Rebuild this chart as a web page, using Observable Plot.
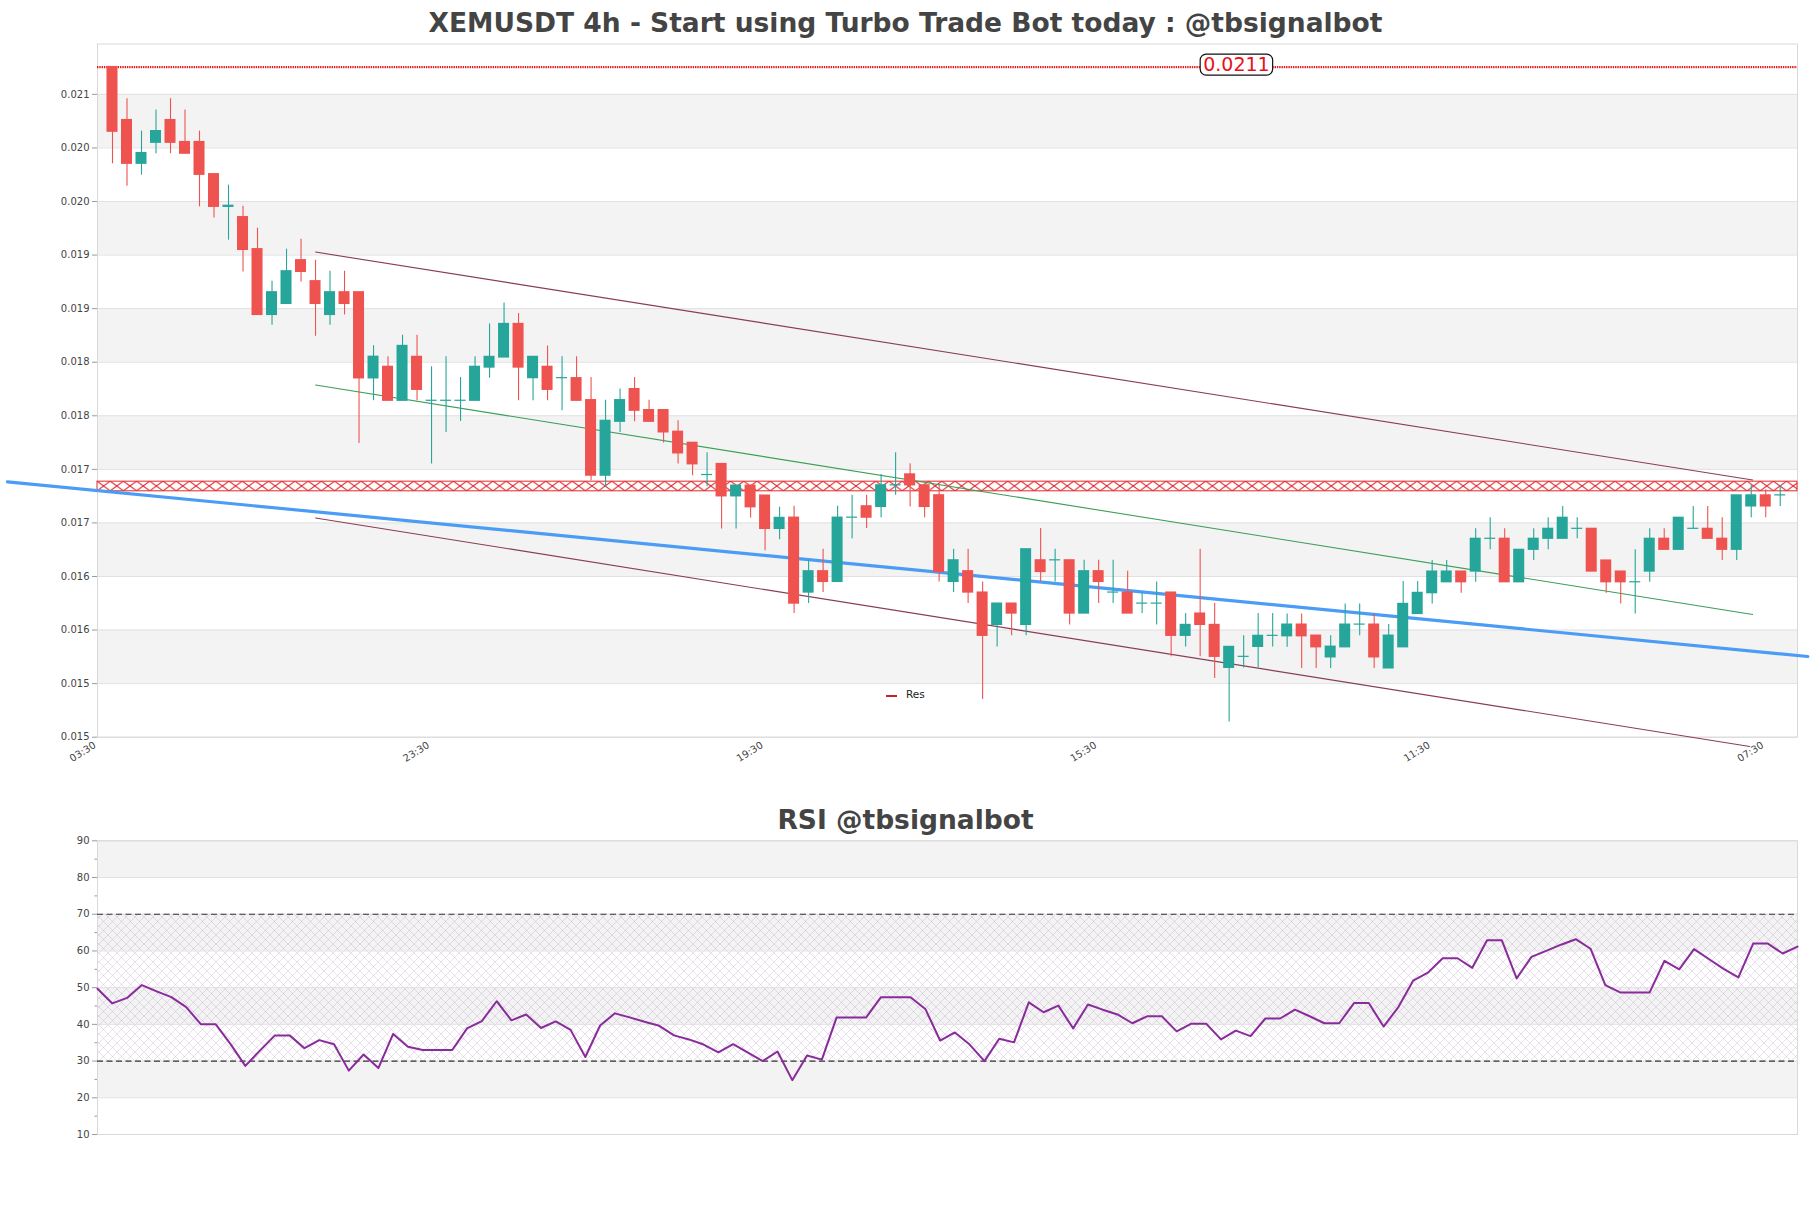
<!DOCTYPE html>
<html>
<head>
<meta charset="utf-8">
<script src="https://cdn.jsdelivr.net/npm/d3@7"></script>
<script src="https://cdn.jsdelivr.net/npm/@observablehq/plot@0.6"></script>
<style>
  body { margin: 0; background: #fff; font-family: "DejaVu Sans", sans-serif; }
  #wrap { position: relative; width: 1811px; height: 1208px; overflow: hidden; background: #fff; }
  .title { position: absolute; left: 0; width: 1811px; text-align: center; font-weight: bold;
           font-size: 26.5px; line-height: 1; color: #444; z-index: 5; }
  .chart { position: absolute; left: 0; }
  .chart svg { overflow: visible; }
  #legend { position: absolute; left: 886px; top: 688px; z-index: 5; font-size: 10.5px; color: #222; }
  #legend .sw { position: absolute; left: 0; top: 6.5px; width: 10.5px; height: 2.6px; background: #c8202a; }
  #legend .lb { position: absolute; left: 20px; top: 0; white-space: nowrap; }
  g[aria-label="y-axis tick"] path { stroke: #9a9a9a; }
</style>
</head>
<body>
<div id="wrap">
  <div class="title" style="top:10px">XEMUSDT 4h - Start using Turbo Trade Bot today : @tbsignalbot</div>
  <div class="title" style="top:807px">RSI @tbsignalbot</div>
  <div id="main" class="chart" style="top:0px"></div>
  <div id="rsi" class="chart" style="top:800px"></div>
  <div id="legend"><div class="sw"></div><div class="lb">Res</div></div>
</div>
<script>
// ---------------- data ----------------
const candleOpen = [
  0.021255, 0.02076, 0.020352, 0.020548, 0.02076, 0.020555, 0.020555, 0.020255, 0.01995, 0.019854,
  0.019555, 0.018941, 0.019044, 0.019452, 0.019256, 0.018941, 0.019153, 0.019153, 0.018349, 0.018457,
  0.01814, 0.01855, 0.01814, 0.01814, 0.01814, 0.01814, 0.01845, 0.018544, 0.018857, 0.018351,
  0.018457, 0.018351, 0.018351, 0.018146, 0.017441, 0.017944, 0.018249, 0.018053, 0.018053, 0.017851,
  0.017748, 0.017447, 0.01755, 0.017248, 0.017348, 0.017255, 0.016944, 0.017049, 0.01635, 0.016549,
  0.016449, 0.017049, 0.017155, 0.017149, 0.017351, 0.017453, 0.017351, 0.017258, 0.016449, 0.016549,
  0.01635, 0.016048, 0.016247, 0.016048, 0.016651, 0.016651, 0.016651, 0.016154, 0.016549, 0.01635,
  0.01635, 0.016247, 0.016247, 0.01635, 0.015946, 0.016154, 0.016048, 0.015647, 0.01575, 0.015843,
  0.015946, 0.015942, 0.016051, 0.015948, 0.015745, 0.015839, 0.016051, 0.016051, 0.015642, 0.015839,
  0.01615, 0.016344, 0.016446, 0.016546, 0.016546, 0.016852, 0.016852, 0.016446, 0.016749, 0.016852,
  0.016852, 0.016945, 0.016945, 0.016649, 0.016546, 0.016446, 0.016546, 0.016852, 0.016749, 0.016945,
  0.016945, 0.016852, 0.016749, 0.017154, 0.017257, 0.017257
];
const candleHigh = [
  0.021255, 0.02096, 0.020657, 0.020854, 0.02096, 0.020854, 0.020657, 0.020255, 0.020153, 0.019956,
  0.019751, 0.019256, 0.019555, 0.019648, 0.019452, 0.019349, 0.019349, 0.019153, 0.018654, 0.01855,
  0.018752, 0.018752, 0.018457, 0.01855, 0.018357, 0.01855, 0.018857, 0.019053, 0.018954, 0.01855,
  0.018652, 0.01855, 0.01855, 0.018357, 0.018146, 0.018249, 0.018357, 0.018146, 0.018053, 0.017953,
  0.017748, 0.017655, 0.01755, 0.017348, 0.017348, 0.017255, 0.017146, 0.017155, 0.016651, 0.016754,
  0.017155, 0.017258, 0.017258, 0.017453, 0.017655, 0.017553, 0.017351, 0.017351, 0.016754, 0.016754,
  0.016449, 0.016247, 0.016247, 0.016754, 0.016947, 0.016754, 0.016651, 0.016651, 0.016651, 0.016651,
  0.016549, 0.01635, 0.016449, 0.01635, 0.016154, 0.016754, 0.016247, 0.015843, 0.015946, 0.016154,
  0.016154, 0.01615, 0.01615, 0.015948, 0.015948, 0.016244, 0.016244, 0.01615, 0.016051, 0.016453,
  0.016453, 0.016649, 0.016649, 0.016546, 0.016945, 0.017048, 0.016945, 0.016749, 0.016945, 0.017048,
  0.017154, 0.017048, 0.016945, 0.016649, 0.016546, 0.016749, 0.016945, 0.016945, 0.017048, 0.017154,
  0.017154, 0.017048, 0.017257, 0.01735, 0.01731, 0.01735
];
const candleLow = [
  0.020352, 0.020143, 0.020246, 0.020446, 0.020446, 0.020446, 0.01995, 0.019847, 0.019639, 0.019343,
  0.018941, 0.018844, 0.019044, 0.019249, 0.018742, 0.018844, 0.018941, 0.017742, 0.018141, 0.01814,
  0.01814, 0.01814, 0.01755, 0.017845, 0.017947, 0.01814, 0.018351, 0.018544, 0.01814, 0.01814,
  0.01814, 0.018047, 0.01814, 0.017394, 0.017332, 0.017845, 0.017944, 0.017944, 0.017745, 0.01755,
  0.017441, 0.017338, 0.016944, 0.016944, 0.017047, 0.01674, 0.016843, 0.016154, 0.016247, 0.01635,
  0.016449, 0.016853, 0.016947, 0.017049, 0.017258, 0.017149, 0.017049, 0.016449, 0.01635, 0.016247,
  0.015352, 0.015843, 0.015946, 0.015946, 0.016449, 0.016449, 0.016048, 0.016154, 0.016247, 0.016247,
  0.016154, 0.016154, 0.016048, 0.01575, 0.015843, 0.01575, 0.015548, 0.015143, 0.015647, 0.015647,
  0.015843, 0.015839, 0.015642, 0.015642, 0.015642, 0.015839, 0.015948, 0.015642, 0.015642, 0.015839,
  0.01615, 0.016244, 0.016446, 0.016344, 0.016446, 0.016749, 0.016446, 0.016446, 0.016649, 0.016749,
  0.016852, 0.016852, 0.016546, 0.016344, 0.016244, 0.01615, 0.016446, 0.016749, 0.016749, 0.016945,
  0.016852, 0.016649, 0.016649, 0.017048, 0.017048, 0.017154
];
const candleClose = [
  0.020651, 0.020352, 0.020452, 0.020657, 0.020548, 0.020446, 0.020249, 0.01995, 0.01996, 0.019548,
  0.018941, 0.019153, 0.019349, 0.019343, 0.019044, 0.019153, 0.019044, 0.018349, 0.018551, 0.01814,
  0.018652, 0.018242, 0.01814, 0.01814, 0.01814, 0.018457, 0.01855, 0.018857, 0.01845, 0.01855,
  0.018242, 0.018351, 0.01814, 0.017441, 0.017953, 0.018146, 0.018047, 0.017944, 0.017845, 0.017649,
  0.017547, 0.017447, 0.017248, 0.017348, 0.017146, 0.016944, 0.017047, 0.016247, 0.016549, 0.016449,
  0.017049, 0.017049, 0.017049, 0.017351, 0.017351, 0.017351, 0.017149, 0.016542, 0.016651, 0.01635,
  0.015946, 0.016247, 0.016154, 0.016754, 0.016542, 0.016651, 0.016154, 0.016549, 0.016449, 0.01635,
  0.016154, 0.016247, 0.016247, 0.015946, 0.016048, 0.016048, 0.01575, 0.015843, 0.01575, 0.015946,
  0.015946, 0.016051, 0.015942, 0.015839, 0.015845, 0.016051, 0.016051, 0.015745, 0.015948, 0.016244,
  0.016347, 0.016546, 0.016546, 0.016446, 0.016852, 0.016852, 0.016446, 0.016749, 0.016852, 0.016945,
  0.017048, 0.016945, 0.016546, 0.016446, 0.016446, 0.016446, 0.016852, 0.016749, 0.017048, 0.016945,
  0.016852, 0.016749, 0.017257, 0.017257, 0.017154, 0.017257
];
const rsiValues = [
  49.7, 45.7, 47.2, 50.7, 49.0, 47.4, 44.7, 40.0, 40.0, 34.6,
  28.7, 32.9, 37.0, 37.0, 33.5, 35.7, 34.6, 27.4, 31.8, 28.1,
  37.4, 33.9, 33.0, 33.0, 33.0, 38.9, 40.9, 46.3, 41.1, 42.7,
  39.0, 40.8, 38.5, 31.1, 39.7, 43.0, 41.9, 40.7, 39.6, 37.0,
  35.9, 34.5, 32.4, 34.6, 32.3, 30.0, 32.6, 24.8, 31.5, 30.4,
  41.9, 41.9, 41.9, 47.4, 47.4, 47.4, 44.2, 35.6, 37.8, 34.5,
  30.0, 36.1, 35.1, 46.0, 43.3, 45.1, 38.9, 45.4, 44.0, 42.7,
  40.3, 42.2, 42.2, 38.1, 40.2, 40.2, 35.9, 38.3, 36.8, 41.6,
  41.6, 44.0, 42.2, 40.3, 40.3, 45.8, 45.8, 39.4, 44.7, 51.9,
  54.1, 58.0, 58.0, 55.4, 62.9, 62.9, 52.5, 58.4, 60.0, 61.7,
  63.2, 60.6, 50.7, 48.7, 48.7, 48.7, 57.3, 55.0, 60.5, 57.8,
  55.1, 52.8, 62.0, 62.0, 59.3, 61.2
];
const xTickIndex = [-1, 22, 45, 68, 91, 114];
const xTickLabels = ["03:30", "23:30", "19:30", "15:30", "11:30", "07:30"];
const yTickValues = [0.015, 0.0155, 0.016, 0.0165, 0.017, 0.0175, 0.018, 0.0185, 0.019, 0.0195, 0.020, 0.0205, 0.021];
const yTickLabels = ["0.015", "0.015", "0.016", "0.016", "0.017", "0.017", "0.018", "0.018", "0.019", "0.019", "0.020", "0.020", "0.021"];
const priceBands = [[0.0155, 0.016], [0.0165, 0.017], [0.0175, 0.018], [0.0185, 0.019], [0.0195, 0.020], [0.0205, 0.021]];
const rsiTickValues = [10, 20, 30, 40, 50, 60, 70, 80, 90];
const rsiTickLabels = ["10", "20", "30", "40", "50", "60", "70", "80", "90"];
const rsiMinorTicks = [15, 25, 35, 45, 55, 65, 75, 85];
const rsiBands = [[20, 30], [40, 50], [60, 70], [80, 90]];
const rsiZone = [30, 70];
const rsiLevels = [30, 70];
const resLevel = 0.021255;
const resLabel = "0.0211";
const resLabelIndex = 77.5;
const resZone = [0.017295, 0.017385];
const trendBlue = [[-7.24, 0.017383], [116.9, 0.015753]];
const channelUpper = [[14, 0.019528], [113.1, 0.017401]];
const channelMid = [[14, 0.018287], [113.1, 0.016145]];
const channelLower = [[14, 0.017046], [112.9, 0.014913]];
const legendLabel = "Res";

// ---------------- build ----------------
const GREEN = "#26a69a", RED = "#ef5350";
const candles = candleOpen.map((o, i) => ({i, o, h: candleHigh[i], l: candleLow[i], c: candleClose[i]}));
const xTicks = xTickIndex.map((i, k) => ({i, label: xTickLabels[k]}));
const yLab = new Map(yTickValues.map((v, k) => [v, yTickLabels[k]]));
const rLab = new Map(rsiTickValues.map((v, k) => [v, rsiTickLabels[k]]));
const W = 1811;
const xDom = [-1.034, 116.19];

const main = Plot.plot({
  width: W, height: 780,
  marginLeft: 97, marginRight: 14, marginTop: 43.5, marginBottom: 43.3,
  x: {domain: xDom, axis: null},
  y: {domain: [0.015, 0.02147], axis: null},
  color: {type: "identity"},
  style: {fontFamily: "DejaVu Sans", fontSize: "10px", color: "#444", background: "transparent"},
  marks: [
    Plot.rect(priceBands, {x1: () => xDom[0], x2: () => xDom[1], y1: d => d[0], y2: d => d[1], fill: "#f3f3f3"}),
    Plot.ruleY(yTickValues, {stroke: "#e1e1e1", strokeWidth: 1}),
    Plot.frame({stroke: "#d9d9d9"}),
    Plot.axisY({ticks: yTickValues, tickFormat: d => yLab.get(d), tickSize: 5, tickPadding: 3, fill: "#444"}),
    Plot.text(xTicks, {x: "i", text: "label", frameAnchor: "bottom", rotate: -32, textAnchor: "end",
      lineAnchor: "middle", dx: -3, dy: 7, fill: "#444", fontSize: 10}),
    Plot.rect([resZone], {x1: () => xDom[0], x2: () => xDom[1], y1: d => d[0], y2: d => d[1],
      fill: "url(#resHatch)", stroke: "#e3262b", strokeWidth: 1}),
    Plot.ruleY([resLevel], {stroke: "#dc1f1f", strokeWidth: 2.2, strokeDasharray: "1.4,0.9"}),
    Plot.line(trendBlue, {x: d => d[0], y: d => d[1], stroke: "#4a9cf4", strokeWidth: 3.2}),
    Plot.line(channelUpper, {x: d => d[0], y: d => d[1], stroke: "#8a3d52", strokeWidth: 1.1}),
    Plot.line(channelLower, {x: d => d[0], y: d => d[1], stroke: "#8a3d52", strokeWidth: 1.1}),
    Plot.line(channelMid, {x: d => d[0], y: d => d[1], stroke: "#3b9e57", strokeWidth: 1.1}),
    Plot.ruleX(candles, {x: "i", y1: "l", y2: "h", stroke: d => d.c >= d.o ? GREEN : RED, strokeWidth: 1.1}),
    Plot.rect(candles, {x1: d => d.i - 0.38, x2: d => d.i + 0.38,
      y1: d => Math.min(d.o, d.c), y2: d => Math.max(d.o, d.c),
      fill: d => d.c >= d.o ? GREEN : RED, insetTop: -0.6, insetBottom: -0.6}),
    Plot.text([resLabel], {x: () => resLabelIndex, y: () => resLevel, text: d => d, fill: "#e8101a",
      fontSize: 19, lineAnchor: "middle", dy: -2, className: "reslabel"})
  ]
});

const rsi = Plot.plot({
  width: W, height: 360,
  marginLeft: 97, marginRight: 14, marginTop: 40.3, marginBottom: 26,
  x: {domain: [0, rsiValues.length - 1], axis: null},
  y: {domain: [10, 90], axis: null},
  style: {fontFamily: "DejaVu Sans", fontSize: "10px", color: "#444", background: "transparent"},
  marks: [
    Plot.rect(rsiBands, {x1: () => 0, x2: () => rsiValues.length - 1, y1: d => d[0], y2: d => d[1], fill: "#f3f3f3"}),
    Plot.rect([rsiZone], {x1: () => 0, x2: () => rsiValues.length - 1, y1: d => d[0], y2: d => d[1], fill: "url(#rsiHatch)"}),
    Plot.ruleY(rsiTickValues, {stroke: "#e1e1e1"}),
    Plot.frame({stroke: "#d9d9d9"}),
    Plot.axisY({ticks: rsiTickValues, tickFormat: d => rLab.get(d), tickSize: 5, tickPadding: 3, fill: "#444"}),
    Plot.axisY({ticks: rsiMinorTicks, tickFormat: () => "", tickSize: 2.5}),
    Plot.ruleY(rsiLevels, {stroke: "#333", strokeWidth: 1.2, strokeDasharray: "6,3.5"}),
    Plot.line(rsiValues, {x: (d, i) => i, y: d => d, stroke: "#8a2b9b", strokeWidth: 2})
  ]
});

document.getElementById("main").appendChild(main);
document.getElementById("rsi").appendChild(rsi);
document.querySelector("#legend .lb").textContent = legendLabel;

const NS = "http://www.w3.org/2000/svg";
function addDefs(svg, html) {
  let defs = svg.querySelector("defs");
  if (!defs) { defs = document.createElementNS(NS, "defs"); svg.insertBefore(defs, svg.firstChild); }
  defs.innerHTML += html;
}
// red hatch aligned to the resistance zone
const ys = main.scale("y");
const zTop = ys.apply(resZone[1]), zBot = ys.apply(resZone[0]);
const zh = zBot - zTop;
const xs = main.scale("x");
const x0 = xs.apply(xDom[0]);
addDefs(main, `<pattern id="resHatch" patternUnits="userSpaceOnUse" x="${x0}" y="${zTop}" width="13.2" height="${zh}">
  <rect width="13.2" height="${zh}" fill="#fff"/>
  <path d="M0,0L13.2,${zh}M0,${zh}L13.2,0" stroke="#e3262b" stroke-width="1" fill="none"/></pattern>`);
addDefs(rsi, `<pattern id="rsiHatch" patternUnits="userSpaceOnUse" width="9" height="9">
  <path d="M0,0L9,9M0,9L9,0" stroke="#a98bbb" stroke-width="0.6" stroke-opacity="0.45" fill="none"/></pattern>`);

// rounded box behind the level label
const lt = main.querySelector("g.reslabel text");
if (lt) {
  const b = lt.getBBox();
  const r = document.createElementNS(NS, "rect");
  r.setAttribute("x", b.x - 3); r.setAttribute("y", b.y + 1);
  r.setAttribute("width", b.width + 6); r.setAttribute("height", b.height - 1);
  r.setAttribute("rx", 6); r.setAttribute("fill", "#fff"); r.setAttribute("stroke", "#111"); r.setAttribute("stroke-width", 1.2);
  if (lt.getAttribute("transform")) r.setAttribute("transform", lt.getAttribute("transform"));
  lt.parentNode.insertBefore(r, lt);
}
</script>
</body>
</html>
